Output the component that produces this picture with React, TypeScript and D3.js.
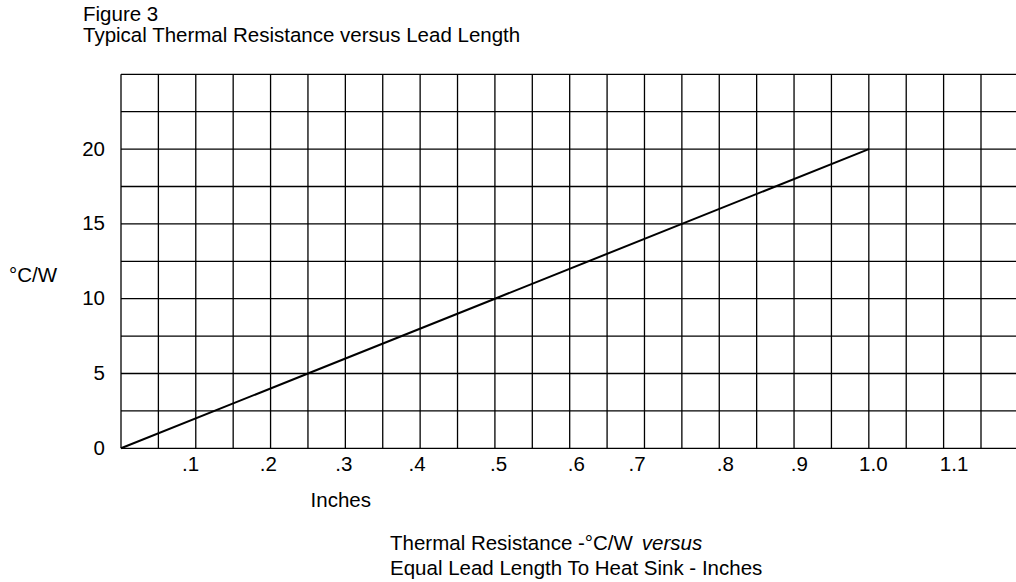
import React, { useRef, useEffect } from 'react';
import * as d3 from 'd3';

// data
const leadLength = [0, 0.25, 0.5, 0.75, 1.0];
const thermalResistance = [0, 5, 10, 15, 20];

const xTickLabels = ['.1', '.2', '.3', '.4', '.5', '.6', '.7', '.8', '.9', '1.0', '1.1'];
// where each label sits along the axis in the original (it is hand placed, not centred)
const xLabelAt = [0.093, 0.197, 0.298, 0.396, 0.505, 0.609, 0.69, 0.808, 0.907, 1.006, 1.114];
const yTickValues = [0, 5, 10, 15, 20];

const xGridStep = 0.05;
const yGridStep = 2.5;

const App = () => {
  const svgRef = useRef<SVGSVGElement>(null);

  useEffect(() => {
    const width = 1016;
    const height = 582;
    const font = '"Liberation Sans", Arial, Helvetica, sans-serif';

    const svg = d3.select(svgRef.current);
    svg.selectAll('*').remove();
    svg.attr('width', width).attr('height', height);

    const x = d3.scaleLinear().domain([0, 1.15]).range([121, 981]);
    const y = d3.scaleLinear().domain([0, 25]).range([448.3, 74.3]);

    // grid
    const grid = svg.append('g').attr('stroke', '#000').attr('stroke-width', 1.3);
    const xLines = d3.range(0, 1.15 + 1e-6, xGridStep);
    const yLines = d3.range(0, 25 + 1e-6, yGridStep);

    grid.selectAll('.v')
      .data(xLines)
      .enter()
      .append('line')
      .attr('x1', d => x(d))
      .attr('x2', d => x(d))
      .attr('y1', y(0))
      .attr('y2', y(25));

    // horizontal rules run on past the last column to the picture edge
    grid.selectAll('.h')
      .data(yLines)
      .enter()
      .append('line')
      .attr('x1', x(0))
      .attr('x2', width)
      .attr('y1', d => y(d))
      .attr('y2', d => y(d));

    // the curve
    const line = d3.line<number>()
      .x((d, i) => x(leadLength[i]))
      .y(d => y(d));

    svg.append('path')
      .datum(thermalResistance)
      .attr('d', line)
      .attr('fill', 'none')
      .attr('stroke', '#000')
      .attr('stroke-width', 2);

    // tick labels
    const text = svg.append('g')
      .style('font-family', font)
      .style('font-size', '20.5px')
      .attr('fill', '#000');

    text.selectAll('.xl')
      .data(xLabelAt)
      .enter()
      .append('text')
      .attr('x', d => x(d))
      .attr('y', y(0) + 23)
      .attr('text-anchor', 'middle')
      .text((d, i) => xTickLabels[i]);

    text.selectAll('.yl')
      .data(yTickValues)
      .enter()
      .append('text')
      .attr('x', 105)
      .attr('y', d => y(d) + 6.5)
      .attr('text-anchor', 'end')
      .text(d => d);

    // titles and axis names
    text.append('text').attr('x', 83).attr('y', 21).text('Figure 3');
    text.append('text').attr('x', 83).attr('y', 42).text('Typical Thermal Resistance versus Lead Length');
    text.append('text').attr('x', 9).attr('y', 282).text('°C/W');
    text.append('text').attr('x', 371).attr('y', 507).attr('text-anchor', 'end').text('Inches');

    const cap1 = text.append('text').attr('x', 390).attr('y', 550);
    cap1.append('tspan').text('Thermal Resistance -°C/W');
    cap1.append('tspan').attr('dx', 9).style('font-style', 'italic').text('versus');
    text.append('text').attr('x', 390).attr('y', 575).text('Equal Lead Length To Heat Sink - Inches');

    return () => {
      d3.select(svgRef.current).selectAll('*').remove();
    };
  }, []);

  return (
    <svg
      ref={svgRef}
      style={{ position: 'absolute', left: 0, top: 0, display: 'block', background: '#fff' }}
    ></svg>
  );
};

export default App;
